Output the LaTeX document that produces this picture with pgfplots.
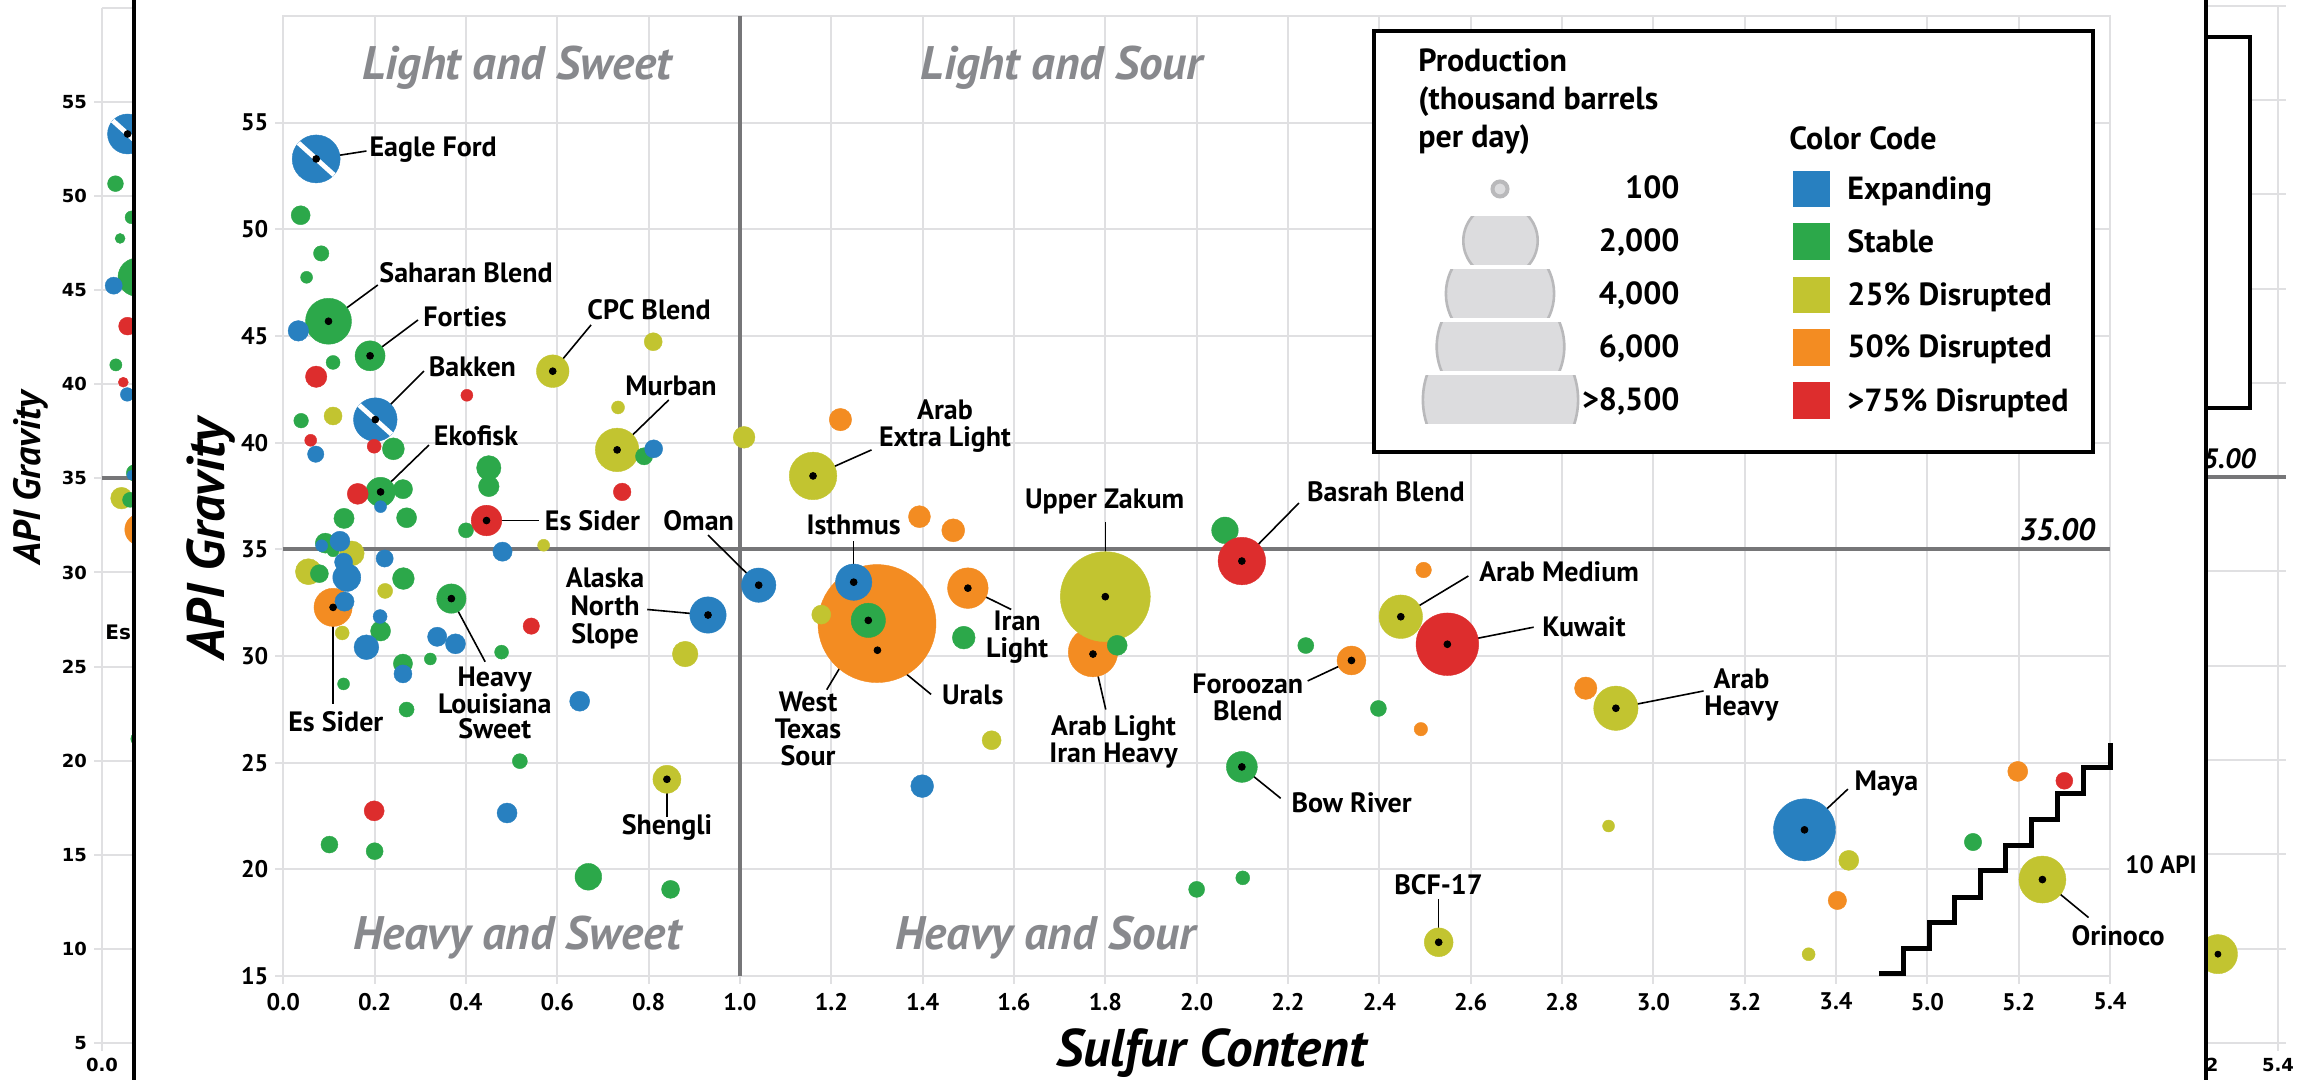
\documentclass[border=0pt]{standalone}
\usepackage{fontspec}
\setmainfont{PT Sans}
\newfontfamily\dejavu{DejaVu Sans}
\usepackage{pgfplots}
\pgfplotsset{compat=1.18}
\usepackage{pgfplotstable}

\definecolor{cE}{RGB}{40,128,192}
\definecolor{cS}{RGB}{44,168,74}
\definecolor{cY}{RGB}{194,196,48}
\definecolor{cO}{RGB}{243,140,34}
\definecolor{cR}{RGB}{221,45,45}
\definecolor{gridc}{RGB}{224,224,226}
\definecolor{refc}{RGB}{118,118,120}
\definecolor{quadc}{RGB}{136,137,141}
\definecolor{legfill}{RGB}{220,220,222}
\definecolor{legedge}{RGB}{185,185,187}

% s = sulfur content (%), y = API gravity, p = production (thousand b/d)
\pgfplotstableread{
s y p
0.072 53.30 816
0.033 45.24 150
0.2015 41.08 673
0.071 39.46 95
0.811 39.71 115
0.213 37.00 51
0.480 34.89 131
0.124 35.38 142
0.084 35.17 51
0.222 34.57 105
0.139 33.68 278
0.132 34.40 115
0.134 32.55 131
0.930 31.92 469
1.041 33.32 419
0.212 31.85 69
0.182 30.41 218
0.337 30.90 131
0.377 30.57 142
0.262 29.16 115
0.649 27.88 142
0.490 22.64 142
1.249 33.46 469
1.399 23.90 184
3.331 21.85 1362
}\tE
\pgfplotstableread{
s y p
0.038 50.66 128
0.083 48.87 84
0.051 47.75 51
0.099 45.69 750
0.190 44.07 319
0.109 43.76 69
0.039 41.03 76
0.241 39.71 171
0.790 39.36 105
0.450 38.82 211
0.450 37.95 150
0.213 37.69 306
0.262 37.82 131
0.133 36.45 145
0.270 36.48 142
0.400 35.89 80
0.092 35.29 142
0.109 34.93 51
0.079 33.86 115
0.263 33.63 168
0.368 32.69 306
0.213 31.17 142
0.478 30.18 69
0.322 29.86 51
0.262 29.64 131
0.132 28.69 51
0.270 27.49 80
0.518 25.07 80
0.101 21.16 102
0.200 20.85 102
0.668 19.65 254
0.848 19.06 115
2.062 35.89 251
1.281 31.67 419
1.490 30.86 184
1.826 30.50 142
2.239 30.49 91
2.398 27.54 91
2.099 24.80 340
2.000 19.06 91
2.101 19.60 69
5.100 21.28 107
}\tS
\pgfplotstableread{
s y p
0.590 43.35 377
0.810 44.73 115
0.733 41.65 60
0.109 41.25 115
0.731 39.66 673
1.009 40.25 168
0.570 35.19 51
0.150 34.81 218
0.055 33.95 240
0.223 33.05 80
0.129 31.08 69
0.880 30.09 232
0.840 24.22 278
1.160 38.44 803
1.178 31.94 128
1.800 32.78 2870
1.551 26.05 128
2.447 31.84 673
2.918 27.55 698
2.902 22.03 51
3.428 20.42 142
3.340 16.02 60
2.530 16.58 294
5.252 19.52 783
}\tY
\pgfplotstableread{
s y p
0.109 32.28 517
1.220 41.08 178
1.393 36.53 171
1.467 35.89 187
1.300 31.52 4933
1.499 33.18 584
1.773 30.18 865
2.339 29.79 294
2.497 34.03 86
2.491 26.57 64
2.852 28.49 178
3.403 18.54 120
5.198 24.59 142
}\tO
\pgfplotstableread{
s y p
0.072 43.09 162
0.402 42.22 51
0.060 40.11 51
0.199 39.83 69
0.742 37.69 110
0.163 37.60 156
0.445 36.35 332
0.543 31.40 95
0.199 22.74 142
2.099 34.45 803
2.549 30.55 1389
5.300 24.15 102
}\tR
\pgfplotstableread{
s y p
5.241 9.71 783
}\tG

\pgfdeclareplotmark{wslash}{%
  \pgfpathmoveto{\pgfqpointpolar{138}{\pgfplotmarksize}}%
  \pgfpathlineto{\pgfqpointpolar{-42}{\pgfplotmarksize}}%
  \pgfusepathqstroke}

\pgfplotsset{
  bub/.style 2 args={scatter, only marks, mark=*,
    visualization depends on={#2*sqrt(\thisrow{p})\as\bsize},
    scatter/@pre marker code/.code={\scope[mark size=\bsize pt, fill=#1, draw=#1, line width=0.2pt]},
    scatter/@post marker code/.code={\endscope}},
}
\tikzset{
  lab/.style={font=\bfseries\fontsize{14}{13.5}\selectfont, inner sep=0pt, align=center},
  quad/.style={font=\bfseries\itshape\fontsize{23.5}{26}\selectfont, text=quadc, inner sep=0pt},
  axl/.style={font=\bfseries\itshape\fontsize{26.5}{29}\selectfont, inner sep=0pt},
  leg/.style={font=\bfseries\fontsize{16}{18}\selectfont, inner sep=0pt},
}

\newcommand{\Bubbles}[1]{%
  \addplot[bub={cO}{#1}] table[x expr={\thisrow{s}>4 ? \thisrow{s}-1.4 : \thisrow{s}}, y=y] {\tO};
  \addplot[bub={cY}{#1}] table[x expr={\thisrow{s}>4 ? \thisrow{s}-1.4 : \thisrow{s}}, y=y] {\tY};
  \addplot[bub={cS}{#1}] table[x expr={\thisrow{s}>4 ? \thisrow{s}-1.4 : \thisrow{s}}, y=y] {\tS};
  \addplot[bub={cE}{#1}] table[x expr={\thisrow{s}>4 ? \thisrow{s}-1.4 : \thisrow{s}}, y=y] {\tE};
  \addplot[bub={cR}{#1}] table[x expr={\thisrow{s}>4 ? \thisrow{s}-1.4 : \thisrow{s}}, y=y] {\tR};
  \addplot[only marks, mark=wslash, mark size={#1*sqrt(816)}, mark options={draw=white, line width=2.4pt}] coordinates {(0.072,53.30)};
  \addplot[only marks, mark=wslash, mark size={#1*sqrt(673)}, mark options={draw=white, line width=2.4pt}] coordinates {(0.2015,41.08)};
}
\newcommand{\Lead}[4]{\addplot[black, line width=0.8pt] coordinates {(#1,#2) (#3,#4)};}
\newcommand{\Leaders}{%
  \Lead{0.072}{53.30}{0.182}{53.67}
  \Lead{0.099}{45.69}{0.207}{47.39}
  \Lead{0.190}{44.07}{0.295}{45.75}
  \Lead{0.2015}{41.08}{0.308}{43.36}
  \Lead{0.213}{37.69}{0.319}{39.89}
  \Lead{0.590}{43.35}{0.674}{45.52}
  \Lead{0.731}{39.66}{0.844}{42.00}
  \Lead{0.445}{36.35}{0.559}{36.35}
  \Lead{1.041}{33.32}{0.930}{35.67}
  \Lead{0.109}{32.28}{0.109}{27.75}
  \Lead{0.368}{32.69}{0.442}{29.73}
  \Lead{0.930}{31.92}{0.797}{32.18}
  \Lead{0.840}{24.22}{0.840}{22.46}
  \Lead{1.160}{38.44}{1.288}{39.66}
  \Lead{1.249}{33.46}{1.249}{35.39}
  \Lead{1.800}{32.78}{1.800}{36.28}
  \Lead{2.099}{34.45}{2.224}{37.17}
  \Lead{1.499}{33.18}{1.594}{32.18}
  \Lead{1.281}{31.67}{1.190}{28.42}
  \Lead{1.301}{30.27}{1.4185}{28.20}
  \Lead{1.773}{30.09}{1.801}{27.49}
  \Lead{2.339}{29.79}{2.243}{28.83}
  \Lead{2.099}{24.80}{2.184}{23.33}
  \Lead{2.447}{31.84}{2.595}{33.75}
  \Lead{2.549}{30.55}{2.738}{31.35}
  \Lead{2.918}{27.55}{3.110}{28.36}
  \Lead{3.331}{21.85}{3.426}{23.76}
  \Lead{2.530}{16.58}{2.530}{18.61}
  \Lead{3.852}{19.52}{3.953}{17.74}
}
\newcommand{\Dots}{%
  \addplot[only marks, mark=*, mark size=1.7pt, black] coordinates {
    (0.072,53.30) (0.099,45.69) (0.190,44.07) (0.2015,41.08) (0.213,37.69)
    (0.590,43.35) (0.731,39.66) (0.445,36.35) (1.041,33.32) (0.109,32.28)
    (0.368,32.69) (0.930,31.92) (0.840,24.22) (1.160,38.44) (1.249,33.46)
    (1.800,32.78) (2.099,34.45) (1.499,33.18) (1.281,31.67) (1.301,30.27)
    (1.773,30.09) (2.339,29.79) (2.099,24.80) (2.447,31.84) (2.549,30.55)
    (2.918,27.55) (3.331,21.85) (2.530,16.58) (3.852,19.52)};
}

\begin{document}
\begin{tikzpicture}
\useasboundingbox (0,0) rectangle (1157.5pt,540pt);

% ---------------- left ghost strip ----------------
\begin{scope}
\clip (0,0) rectangle (66pt,540pt);
\begin{axis}[at={(51pt,18.5pt)}, anchor=south west,
  width=35.5pt, height=517.55pt, scale only axis,
  xmin=0, xmax=0.2, ymin=5, ymax=60, clip=false,
  axis line style={draw=none},
  grid=major, grid style={draw=gridc, line width=1pt},
  xtick={0}, xticklabels={0.0}, ytick={5,10,...,55},
  tick align=outside, major tick length=4pt, tick style={draw=gridc, line width=1pt}, tick pos=left,
  ticklabel style={font=\dejavu\bfseries\fontsize{9}{11}\selectfont},
  /pgf/number format/assume math mode=true]
  \addplot[gridc, line width=1pt] coordinates {(0,60) (0.2,60)};
  \Bubbles{0.35}
  \addplot[refc, line width=2pt] coordinates {(0,35) (0.2,35)};
  \Leaders
  \Dots
  \node[axl, rotate=90, font=\bfseries\itshape\fontsize{19}{21}\selectfont] at (axis cs:-0.2,35) {API Gravity};
  \node[anchor=west, inner sep=0pt, font=\dejavu\bfseries\fontsize{10}{12}\selectfont] at (axis cs:0.0085,26.86) {Es Sider};
\end{axis}
\end{scope}

% ---------------- right ghost strip ----------------
\begin{scope}
\clip (1103.8pt,0) rectangle (1157.5pt,540pt);
\begin{axis}[at={(1082.3pt,18.5pt)}, anchor=south west,
  width=60.5pt, height=518.65pt, scale only axis,
  xmin=3.7, xmax=4.02, ymin=5, ymax=60, clip=false,
  axis line style={draw=none},
  grid=major, grid style={draw=gridc, line width=1pt},
  xtick={3.8,4.0}, xticklabels={5.2,5.4}, ytick={5,10,...,55}, yticklabels={},
  tick align=outside, major tick length=4pt, tick style={draw=gridc, line width=1pt}, tick pos=left,
  ticklabel style={font=\dejavu\bfseries\fontsize{9}{11}\selectfont}]
  \addplot[gridc, line width=1pt] coordinates {(3.7,60) (4.02,60)};
  \draw[line width=2pt, fill=white] (axis cs:3.5,58.33) rectangle (axis cs:3.926,38.65);
  \addplot[refc, line width=2pt] coordinates {(3.7,35) (4.02,35)};
  \node[anchor=east, inner sep=0pt, font=\bfseries\itshape\fontsize{14}{16}\selectfont] at (axis cs:3.942,36.0) {35.00};
  \addplot[bub={cY}{0.35}] table[x expr={\thisrow{s}-1.4}, y=y] {\tG};
  \addplot[black, line width=0.8pt] coordinates {(3.841,9.71) (3.762,11.3)};
  \addplot[only marks, mark=*, mark size=1.5pt, black] coordinates {(3.841,9.71)};
\end{axis}
\end{scope}

% ---------------- main chart ----------------
\begin{axis}[at={(141.65pt,52pt)}, anchor=south west,
  width=913.35pt, height=480pt, scale only axis,
  xmin=0, xmax=4, ymin=15, ymax=60, clip=false,
  axis line style={draw=gridc, line width=1pt},
  grid=major, grid style={draw=gridc, line width=1pt},
  xtick={0,0.2,0.4,0.6,0.8,1,1.2,1.4,1.6,1.8,2,2.2,2.4,2.6,2.8,3,3.2,3.4,3.6,3.8,4},
  xticklabels={0.0,0.2,0.4,0.6,0.8,1.0,1.2,1.4,1.6,1.8,2.0,2.2,2.4,2.6,2.8,3.0,3.2,3.4,5.0,5.2,5.4},
  ytick={15,20,...,55},
  tick align=outside, major tick length=4pt, tick style={draw=gridc, line width=1pt}, tick pos=left,
  ticklabel style={font=\bfseries\fontsize{12}{14}\selectfont},
  xticklabel style={yshift=-1pt},
  /pgf/number format/assume math mode=true]

  \Bubbles{0.42}
  \addplot[refc, line width=2pt] coordinates {(1,15) (1,60)};
  \addplot[refc, line width=2pt] coordinates {(0,35) (4,35)};
  % 10 API boundary
  \addplot[black, line width=2.5pt, line join=miter] coordinates {
    (3.494,15.10) (3.547,15.10) (3.547,16.30) (3.604,16.30) (3.604,17.49)
    (3.660,17.49) (3.660,18.70) (3.717,18.70) (3.717,19.94) (3.772,19.94)
    (3.772,21.13) (3.829,21.13) (3.829,22.33) (3.885,22.33) (3.885,23.54)
    (3.942,23.54) (3.942,24.76) (4.0,24.76) (4.0,25.93)};
  \Leaders
  \Dots

  % quadrant names
  \node[quad] at (axis cs:0.5116,57.57) {Light and Sweet};
  \node[quad] at (axis cs:1.705,57.57) {Light and Sour};
  \node[quad] at (axis cs:0.512,16.81) {Heavy and Sweet};
  \node[quad] at (axis cs:1.669,16.81) {Heavy and Sour};

  % crude labels
  \node[lab, anchor=west] at (axis cs:0.188,53.72) {Eagle Ford};
  \node[lab, anchor=west] at (axis cs:0.2096,47.95) {Saharan Blend};
  \node[lab, anchor=west] at (axis cs:0.306,45.89) {Forties};
  \node[lab, anchor=west] at (axis cs:0.318,43.55) {Bakken};
  \node[lab, anchor=west] at (axis cs:0.329,40.31) {Ekofisk};
  \node[lab, anchor=west] at (axis cs:0.665,46.22) {CPC Blend};
  \node[lab, anchor=west] at (axis cs:0.748,42.66) {Murban};
  \node[lab, anchor=west] at (axis cs:0.572,36.33) {Es Sider};
  \node[lab, anchor=west] at (axis cs:0.8316,36.33) {Oman};
  \node[lab] at (axis cs:0.115,26.9) {Es Sider};
  \node[lab, font=\bfseries\fontsize{14}{12.6}\selectfont] at (axis cs:0.463,27.80) {Heavy\\Louisiana\\Sweet};
  \node[lab, font=\bfseries\fontsize{14}{14}\selectfont] at (axis cs:0.7046,32.25) {Alaska\\North\\Slope};
  \node[lab] at (axis cs:0.8403,21.96) {Shengli};
  \node[lab] at (axis cs:1.449,40.79) {Arab\\Extra Light};
  \node[lab] at (axis cs:1.249,36.14) {Isthmus};
  \node[lab] at (axis cs:1.7985,37.22) {Upper Zakum};
  \node[lab, anchor=west] at (axis cs:2.241,37.70) {Basrah Blend};
  \node[lab] at (axis cs:1.607,30.89) {Iran\\Light};
  \node[lab] at (axis cs:1.149,26.59) {West\\Texas\\Sour};
  \node[lab, anchor=west] at (axis cs:1.4415,28.17) {Urals};
  \node[lab] at (axis cs:1.818,25.97) {Arab Light\\Iran Heavy};
  \node[lab] at (axis cs:2.112,28.05) {Foroozan\\Blend};
  \node[lab, anchor=west] at (axis cs:2.207,23.13) {Bow River};
  \node[lab, anchor=west] at (axis cs:2.618,33.95) {Arab Medium};
  \node[lab, anchor=west] at (axis cs:2.756,31.37) {Kuwait};
  \node[lab] at (axis cs:3.193,28.19) {Arab\\Heavy};
  \node[lab, anchor=west] at (axis cs:3.44,24.0) {Maya};
  \node[lab] at (axis cs:2.5296,19.27) {BCF-17};
  \node[lab, anchor=west] at (axis cs:3.915,16.88) {Orinoco};
  \node[lab, anchor=west, font=\bfseries\fontsize{12.5}{14}\selectfont] at (axis cs:4.033,20.23) {10 API};
  \node[anchor=east, inner sep=0pt, font=\bfseries\itshape\fontsize{15.5}{17}\selectfont] at (axis cs:3.968,35.91) {35.00};

  % axis titles
  \node[axl, rotate=90] at (rel axis cs:-0.0396,0.455) {API Gravity};
  \node[axl] at (rel axis cs:0.508,-0.0802) {Sulfur Content};
\end{axis}

% ---------------- legend (pixel grid) ----------------
\begin{scope}[x=0.5pt, y=-0.5pt, shift={(0pt,540pt)}]
  \draw[line width=2pt, fill=white] (1374,31) rectangle (2093,452);
  \node[leg, anchor=base west] at (1418,72) {Production};
  \node[leg, anchor=base west] at (1418,110) {(thousand barrels};
  \node[leg, anchor=base west] at (1418,148) {per day)};
  \node[leg, anchor=base west] at (1789,150) {Color Code};
  \node[leg, anchor=base east] at (1680,199) {100};
  \node[leg, anchor=base east] at (1680,252) {2,000};
  \node[leg, anchor=base east] at (1680,305) {4,000};
  \node[leg, anchor=base east] at (1680,358) {6,000};
  \node[leg, anchor=base east] at (1680,411) {>8,500};
  \fill[cE] (1793,171) rectangle (1830,207);
  \fill[cS] (1793,223) rectangle (1830,260);
  \fill[cY] (1793,277) rectangle (1830,313);
  \fill[cO] (1793,329) rectangle (1830,366);
  \fill[cR] (1793,382) rectangle (1830,419);
  \node[leg, anchor=base west] at (1847,200) {Expanding};
  \node[leg, anchor=base west] at (1847,253) {Stable};
  \node[leg, anchor=base west] at (1847,306) {25\% Disrupted};
  \node[leg, anchor=base west] at (1847,358) {50\% Disrupted};
  \node[leg, anchor=base west] at (1847,412) {>75\% Disrupted};
  \draw[fill=legfill, draw=legedge, line width=2pt] (1500,189) circle (7.5);
  \begin{scope}\clip (1400,216.7) rectangle (1600,265);
    \draw[fill=legfill, draw=legedge, line width=1.3pt] (1500.5,240.8) circle (37.2);\end{scope}
  \begin{scope}\clip (1400,270) rectangle (1600,317.3);
    \draw[fill=legfill, draw=legedge, line width=1.3pt] (1500,293.7) circle (54.1);\end{scope}
  \begin{scope}\clip (1400,322.7) rectangle (1600,370.7);
    \draw[fill=legfill, draw=legedge, line width=1.3pt] (1500.5,346.7) circle (63.8);\end{scope}
  \begin{scope}\clip (1400,375.7) rectangle (1600,424);
    \draw[fill=legfill, draw=legedge, line width=1.3pt] (1500.5,399.8) circle (77.6);\end{scope}
\end{scope}

% panel borders
\fill[black] (66pt,0) rectangle (68pt,540pt);
\fill[black] (1102.2pt,0) rectangle (1103.8pt,540pt);
\end{tikzpicture}
\end{document}
